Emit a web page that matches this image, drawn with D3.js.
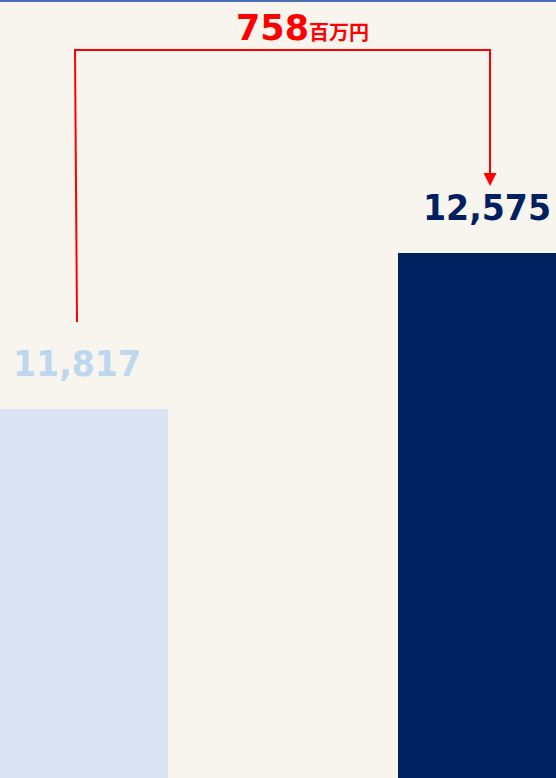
<!DOCTYPE html>
<html lang="ja">
<head>
<meta charset="UTF-8">
<title>差額チャート</title>
<script src="https://d3js.org/d3.v7.min.js"></script>
<style>
    body{
        margin: 0;
        background: #f8f5ee;
        overflow: hidden;
    }
    .val{
        font-family: "DejaVu Sans", Verdana, sans-serif;
        font-weight: bold;
    }
</style>
</head>
<body>
<svg id="chart" width="556" height="778"></svg>
<script>
    // data
    let categories = ["前年", "当年"]
    let values = [11817, 12575]
    let barColors = ["#dae3f3", "#002060"]
    let labelColors = ["#bdd7ee", "#002060"]
    let diffValue = values[1] - values[0]
    let diffUnit = "百万円"

    let width = 556
    let height = 778
    let svg = d3.select("#chart")

    // top border
    svg.append("rect")
        .attr("x", 0).attr("y", 0)
        .attr("width", width).attr("height", 2)
        .attr("fill", "#4a6fb5")

    let x = d3.scalePoint()
        .domain(categories)
        .range([78, 488])
    let barWidth = 180

    let y = d3.scaleLinear()
        .domain([10000, 12575])
        .range([783, 253])

    svg.selectAll("rect.bar")
        .data(values)
        .enter()
        .append("rect")
        .attr("class", "bar")
        .attr("x", (d, i) => x(categories[i]) - barWidth / 2)
        .attr("y", d => y(d))
        .attr("width", barWidth)
        .attr("height", d => y.range()[0] - y(d))
        .attr("fill", (d, i) => barColors[i])

    let fmt = d3.format(",")
    svg.selectAll("text.val")
        .data(values)
        .enter()
        .append("text")
        .attr("class", "val")
        .attr("x", (d, i) => x(categories[i]) - 1)
        .attr("y", d => y(d) - 33)
        .attr("text-anchor", "middle")
        .attr("font-size", 35)
        .attr("textLength", 128)
        .attr("lengthAdjust", "spacingAndGlyphs")
        .attr("fill", (d, i) => labelColors[i])
        .text(d => fmt(d))

    // bracket with arrow
    let x0 = x(categories[0]) - 3
    let x1 = x(categories[1]) + 2
    let topY = 50
    let startY = y(values[0]) - 87
    let tipY = y(values[1]) - 67

    svg.append("path")
        .attr("d", `M${x0 + 2},${startY} L${x0},${topY} L${x1},${topY} L${x1},${tipY - 12}`)
        .attr("fill", "none")
        .attr("stroke", "#ff0000")
        .attr("stroke-width", 2)

    svg.append("path")
        .attr("d", `M${x1 - 6.5},${tipY - 13} L${x1 + 6.5},${tipY - 13} L${x1},${tipY} Z`)
        .attr("fill", "#ff0000")

    let diffText = svg.append("text")
        .attr("x", 236)
        .attr("y", 40)
        .attr("fill", "#ff0000")
    diffText.append("tspan")
        .attr("class", "val")
        .attr("font-size", 35)
        .text(diffValue)
    diffText.append("tspan")
        .attr("font-family", "'Noto Sans CJK JP', sans-serif")
        .attr("font-weight", "bold")
        .attr("font-size", 20)
        .text(diffUnit)
</script>
</body>
</html>
